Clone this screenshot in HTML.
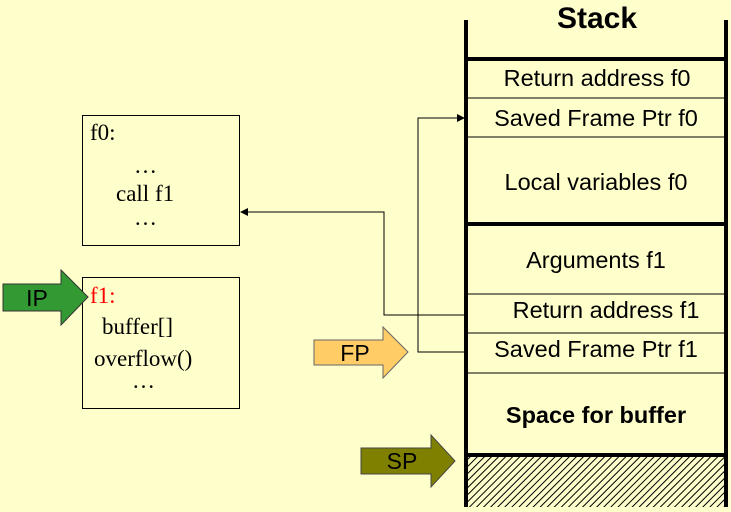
<!DOCTYPE html>
<html><head><style>
body{margin:0;background:#FFFFCC;width:731px;height:507px;overflow:hidden}
</style></head><body>
<svg width="731" height="507" xmlns="http://www.w3.org/2000/svg" font-family="Liberation Sans, sans-serif">
<defs>
<pattern id="h" width="5" height="5" patternUnits="userSpaceOnUse" patternTransform="rotate(45)">
<rect width="5" height="5" fill="#FFFFCC"/><line x1="0" y1="0" x2="0" y2="5" stroke="#000" stroke-width="2"/>
</pattern>
</defs>
<rect width="731" height="507" fill="#FFFFCC"/>
<text x="597" y="28" font-size="30" font-weight="bold" text-anchor="middle">Stack</text>
<rect x="466" y="455" width="260" height="52" fill="url(#h)"/>
<g stroke="#000">
<line x1="466" y1="20" x2="466" y2="507" stroke-width="4"/>
<line x1="726" y1="20" x2="726" y2="507" stroke-width="4"/>
<line x1="466" y1="59" x2="726" y2="59" stroke-width="4"/>
<line x1="466" y1="224" x2="726" y2="224" stroke-width="4"/>
<line x1="466" y1="455" x2="726" y2="455" stroke-width="4"/>
<line x1="466" y1="98" x2="726" y2="98" stroke-width="1"/>
<line x1="466" y1="137" x2="726" y2="137" stroke-width="1"/>
<line x1="466" y1="294" x2="726" y2="294" stroke-width="1"/>
<line x1="466" y1="333" x2="726" y2="333" stroke-width="1"/>
<line x1="466" y1="373" x2="726" y2="373" stroke-width="1"/>
</g>
<g font-size="23.5" text-anchor="middle">
<text x="597" y="86">Return address f0</text>
<text x="596" y="126">Saved Frame Ptr f0</text>
<text x="596" y="190">Local variables f0</text>
<text x="596" y="268">Arguments f1</text>
<text x="606" y="318">Return address f1</text>
<text x="596" y="357">Saved Frame Ptr f1</text>
<text x="596" y="423" font-weight="bold">Space for buffer</text>
</g>
<g fill="none" stroke="#000" stroke-width="1">
<rect x="82.5" y="115.5" width="157" height="130"/>
<rect x="82.5" y="277.5" width="157" height="131"/>
<polyline points="465,315 384,315 384,212 246,212"/>
<polyline points="465,352 418,352 418,118 459,118"/>
</g>
<polygon points="240,212 248,208 248,216" fill="#000"/>
<polygon points="465,118 457,114 457,122" fill="#000"/>
<g font-family="Liberation Serif, serif" font-size="23">
<text x="90" y="140">f0:</text>
<text x="134" y="173">…</text>
<text x="116" y="201">call f1</text>
<text x="134" y="225">…</text>
<text x="90" y="303" fill="#FF0000">f1:</text>
<text x="102" y="334">buffer[]</text>
<text x="94" y="366">overflow()</text>
<text x="132" y="388">…</text>
</g>
<polygon points="3,284 61,284 61,270 88,297 61,325 61,311 3,311" fill="#339933" stroke="#333" stroke-width="1"/>
<text x="37" y="306" font-size="23" text-anchor="middle">IP</text>
<polygon points="314,340 383,340 383,327 408,352 383,378 383,365 314,365" fill="#FFCC66" stroke="#666" stroke-width="1"/>
<text x="355" y="361" font-size="23" text-anchor="middle">FP</text>
<polygon points="361,448 431,448 431,435 455,461 431,487 431,474 361,474" fill="#808000" stroke="#444" stroke-width="1"/>
<text x="402" y="469" font-size="23" text-anchor="middle">SP</text>
</svg>
</body></html>
